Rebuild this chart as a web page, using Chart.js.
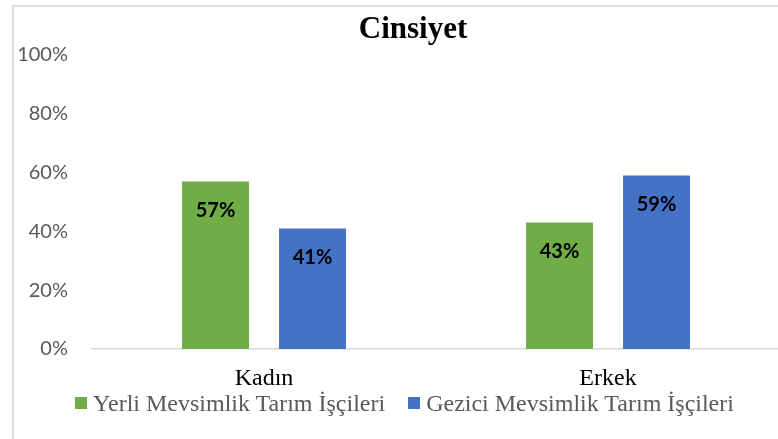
<!DOCTYPE html>
<html>
<head>
<meta charset="utf-8">
<script src="https://cdn.jsdelivr.net/npm/chart.js"></script>
<style>
  html, body {
    margin: 0;
    padding: 0;
    background: #ffffff;
    overflow: hidden;
  }
  .frame {
    position: absolute;
    left: 12px;
    top: 5px;
    width: 1000px;
    height: 1000px;
    border-left: 2px solid #dcdcdc;
    border-top: 2px solid #dcdcdc;
  }
  .wrap {
    position: absolute;
    left: 0;
    top: 0;
    width: 800px;
    height: 439px;
  }
  .legend {
    position: absolute;
    left: 0;
    top: 391px;
    width: 809px;
    display: flex;
    justify-content: center;
    align-items: center;
    font-family: "Liberation Serif", serif;
    font-size: 24px;
    line-height: 24px;
    color: #595959;
    white-space: nowrap;
  }
  .legend .item {
    display: flex;
    align-items: center;
  }
  .legend .item + .item {
    margin-left: 23px;
  }
  .legend .box {
    width: 12px;
    height: 12px;
    margin-right: 6px;
  }
</style>
</head>
<body>
<div class="frame"></div>
<div class="wrap"><canvas id="chart" width="800" height="439"></canvas></div>
<div class="legend" id="legend"></div>
<script>
// data
const categories = ["Kadın", "Erkek"];
const yerli = [57, 43];
const gezici = [41, 59];
const seriesNames = ["Yerli Mevsimlik Tarım İşçileri", "Gezici Mevsimlik Tarım İşçileri"];
const seriesColors = ["#70ad47", "#4472c4"];
const yTicks = [0, 20, 40, 60, 80, 100];

// percent labels inside the top of each bar
const barLabels = {
  id: "barLabels",
  afterDatasetsDraw(chart) {
    const ctx = chart.ctx;
    ctx.save();
    ctx.font = "bold 20px Lato";
    ctx.fillStyle = "#000000";
    ctx.textAlign = "center";
    ctx.textBaseline = "middle";
    chart.data.datasets.forEach((ds, i) => {
      chart.getDatasetMeta(i).data.forEach((bar, j) => {
        ctx.fillText(ds.data[j] + "%", bar.x, bar.y + 29);
      });
    });
    ctx.restore();
  },
};

// the title sits a bit right of the plot centre in the original
const chartTitle = {
  id: "chartTitle",
  afterDraw(chart) {
    const ctx = chart.ctx;
    ctx.save();
    ctx.font = "bold 31px 'Liberation Serif'";
    ctx.fillStyle = "#000000";
    ctx.textAlign = "center";
    ctx.textBaseline = "alphabetic";
    ctx.fillText("Cinsiyet", 413, 38);
    ctx.restore();
  },
};

const ctx = document.getElementById("chart").getContext("2d");
new Chart(ctx, {
  type: "bar",
  data: {
    labels: categories,
    datasets: [
      {
        label: seriesNames[0],
        data: yerli,
        backgroundColor: seriesColors[0],
        categoryPercentage: 0.564,
        barPercentage: 0.69,
      },
      {
        label: seriesNames[1],
        data: gezici,
        backgroundColor: seriesColors[1],
        categoryPercentage: 0.564,
        barPercentage: 0.69,
      },
    ],
  },
  options: {
    responsive: false,
    animation: false,
    layout: {
      padding: { left: 16, right: 20, top: 55, bottom: 31.2 },
    },
    scales: {
      x: {
        grid: { display: false, drawTicks: false },
        border: { display: true, color: "#d9d9d9", width: 1.5 },
        ticks: {
          padding: 15,
          color: "#000000",
          font: { family: "Liberation Serif", size: 24 },
        },
      },
      y: {
        min: 0,
        max: 100,
        grid: { display: false, drawTicks: false },
        border: { display: false },
        afterBuildTicks: (scale) => {
          scale.ticks = yTicks.map((v) => ({ value: v }));
        },
        ticks: {
          padding: 24,
          color: "#595959",
          font: { family: "Lato", size: 20 },
          callback: (v) => v + "%",
        },
        afterFit: (scale) => {
          scale.width = 76;
        },
      },
    },
    plugins: {
      legend: { display: false },
      tooltip: { enabled: false },
    },
  },
  plugins: [barLabels, chartTitle],
});

// legend below the axis labels
const legendEl = document.getElementById("legend");
seriesNames.forEach((name, i) => {
  const item = document.createElement("div");
  item.className = "item";
  const box = document.createElement("span");
  box.className = "box";
  box.style.background = seriesColors[i];
  const text = document.createElement("span");
  text.textContent = name;
  item.appendChild(box);
  item.appendChild(text);
  legendEl.appendChild(item);
});
</script>
</body>
</html>
